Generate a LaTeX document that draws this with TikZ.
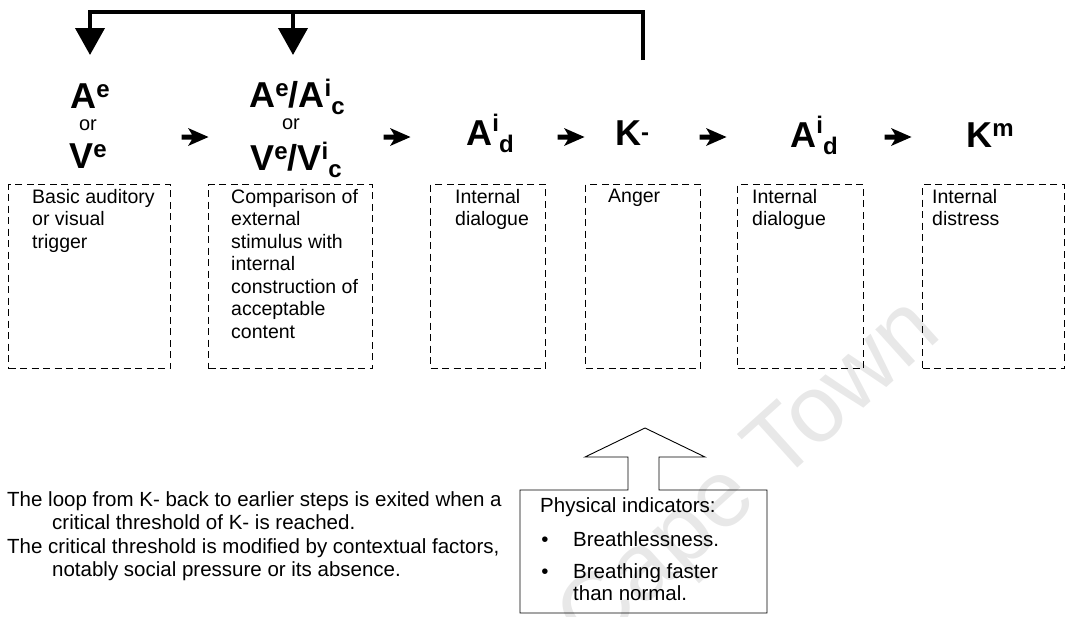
\documentclass[tikz,border=0pt]{standalone}
\usepackage{fontspec}
\setmainfont{Liberation Sans}
\usetikzlibrary{arrows.meta,calc}

% raised / lowered indices inside the bold stage labels
\newcommand\hup[2][11pt]{\raisebox{#1}{\fontsize{24}{24}\selectfont #2}}
\newcommand\hdn[1]{\raisebox{-7pt}{\fontsize{24}{24}\selectfont #1}}

\begin{document}
\begin{tikzpicture}[x=1pt,y=-1pt,
  head/.style={inner sep=0pt, anchor=base, font=\fontsize{36}{36}\selectfont\bfseries},
  ortext/.style={inner sep=0pt, anchor=base, font=\fontsize{20}{20}\selectfont},
  stagebox/.style={draw, line width=1.3pt, dash pattern=on 7pt off 4.5pt,
    minimum height=184pt, inner sep=0pt, anchor=north west},
  body/.style={inner sep=0pt, anchor=north west, align=left,
    font=\fontsize{19.5}{22.5}\selectfont},
  note/.style={inner sep=0pt, align=left, font=\fontsize{20.5}{23.5}\selectfont},
  loopline/.style={line width=4pt, line join=miter},
  loophead/.style={-{Triangle[length=27pt,width=29pt]}},
  stepsign/.pic={\fill (13.5,0) -- (-7,-9) -- (-3,-2.5) -- (-13.5,-2.5)
    -- (-13.5,2.5) -- (-3,2.5) -- (-7,9) -- cycle;}
]
\useasboundingbox (0,0) rectangle (1067,616);

% faint watermark behind everything
\node[rotate=42, text=black!9, font=\fontsize{95}{95}\selectfont] (wm) at (752,478) {Cape Town};

% stage labels
\node[head] (hA) at (90,108) {A\hup{e}};
\node[ortext] (or1) at (88,130) {or};
\node[head] (hV) at (88,168) {V\hup{e}};
\node[head] (hAc) at (297,107) {A\hup{e}/A\hup{i}\hdn{c}};
\node[ortext] (or2) at (291,129) {or};
\node[head] (hVc) at (296,170) {V\hup{e}/V\hup{i}\hdn{c}};
\node[head] (hAd) at (490,145) {A\hup[14pt]{i}\hdn{d}};
\node[head] (hK) at (632,145) {K\hup[5pt]{-}};
\node[head] (hAd2) at (814,147) {A\hup[14pt]{i}\hdn{d}};
\node[head] (hKm) at (990,147) {K\hup{m}};

% step arrows between the stages
\pic at (195,137) {stepsign};
\pic at (397,137) {stepsign};
\pic at (571,137) {stepsign};
\pic at (713,137) {stepsign};
\pic at (898,137) {stepsign};

% feedback loop from K- back to the first two stages
\coordinate (kTop) at (643,60);
\coordinate (loopR) at (643,12);
\coordinate (loopM) at (293,12);
\coordinate (loopL) at (90,12);
\coordinate (tipA) at (90,55);
\coordinate (tipB) at (293,55);
\draw[loopline, loophead] (kTop) -- (loopR) -- (loopL) -- (tipA);
\draw[loopline, loophead] (loopM) -- (tipB);

% dashed description boxes
\node[stagebox, minimum width=162pt] (b1) at (8,184) {};
\node[stagebox, minimum width=164pt] (b2) at (208,184) {};
\node[stagebox, minimum width=115pt] (b3) at (430,184) {};
\node[stagebox, minimum width=115pt] (b4) at (585,184) {};
\node[stagebox, minimum width=126pt] (b5) at (737,184) {};
\node[stagebox, minimum width=142pt] (b6) at (922,184) {};

\node[body] (t1) at ($(b1.north west)+(24,5)$) {Basic auditory\\or visual\\trigger};
\node[body] (t2) at ($(b2.north west)+(23,5)$) {Comparison of\\external\\stimulus with\\internal\\construction of\\acceptable\\content};
\node[body] (t3) at ($(b3.north west)+(25,5)$) {Internal\\dialogue};
\node[body] (t4) at ($(b4.north west)+(23,5)$) {Anger};
\node[body] (t5) at ($(b5.north west)+(15,5)$) {Internal\\dialogue};
\node[body] (t6) at ($(b6.north west)+(10,5)$) {Internal\\distress};

% explanatory note
\node[note, anchor=north west] (nt) at (7,491) {The loop from K- back to earlier steps is exited when a\\
\hspace*{45pt}critical threshold of K- is reached.\\
The critical threshold is modified by contextual factors,\\
\hspace*{45pt}notably social pressure or its absence.};

% up-arrow callout with physical indicators
\draw[line width=0.9pt, line join=miter] (520,490) -- (628,490) -- (628,457) -- (585,457)
  -- (645,428) -- (705,457) -- (659,457) -- (659,490) -- (767,490) -- (767,613)
  -- (520,613) -- cycle;
\node[note, anchor=base west] (pi) at (540,512) {Physical indicators:};
\node[note, anchor=base] (bu1) at (545,546) {\textbullet};
\node[note, anchor=base west] (i1) at (573,546) {Breathlessness.};
\node[note, anchor=base] (bu2) at (545,578) {\textbullet};
\node[note, anchor=north west, font=\fontsize{20.5}{22}\selectfont] (i2) at (573,563.5) {Breathing faster\\than normal.};
\end{tikzpicture}
\end{document}
